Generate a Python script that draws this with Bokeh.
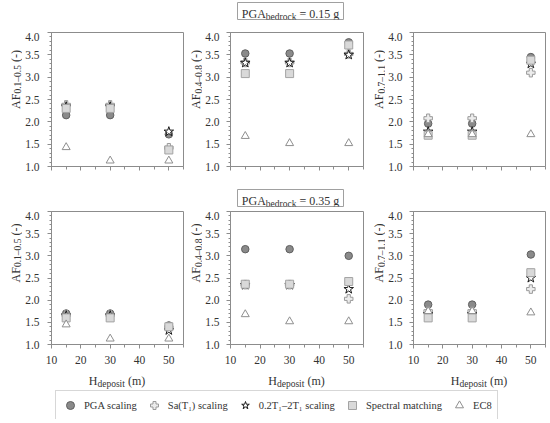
import math
from bokeh.plotting import figure
from bokeh.models import (Range1d, SingleIntervalTicker, PrintfTickFormatter, Label,
                          Legend, LegendItem, ColumnDataSource, Spacer)
from bokeh.layouts import column, row
from bokeh.embed import file_html
from bokeh.resources import INLINE

# ---------------- data ----------------
depth = [15, 30, 50]
method_labels = ["PGA scaling", "Sa(T\u2081) scaling", "0.2T\u2081\u20132T\u2081 scaling",
                 "Spectral matching", "EC8"]
af_ranges = ["0.1\u20130.5", "0.4\u20130.8", "0.7\u20131.1"]
pga_levels = ["0.15", "0.35"]

# PGA_bedrock = 0.15 g
af1_015_pga = [2.15, 2.15, 1.72]
af1_015_sa = [2.38, 2.38, 1.42]
af1_015_band = [2.34, 2.34, 1.78]
af1_015_sm = [2.30, 2.30, 1.37]
af1_015_ec8 = [1.43, 1.13, 1.13]

af2_015_pga = [3.53, 3.53, 3.78]
af2_015_sa = [3.33, 3.33, 3.52]
af2_015_band = [3.32, 3.32, 3.50]
af2_015_sm = [3.08, 3.08, 3.72]
af2_015_ec8 = [1.68, 1.52, 1.52]

af3_015_pga = [1.96, 1.96, 3.45]
af3_015_sa = [2.08, 2.08, 3.10]
af3_015_band = [1.78, 1.78, 3.30]
af3_015_sm = [1.70, 1.70, 3.38]
af3_015_ec8 = [1.72, 1.72, 1.72]

# PGA_bedrock = 0.35 g
af1_035_pga = [1.70, 1.70, 1.43]
af1_035_sa = [1.67, 1.67, 1.38]
af1_035_band = [1.65, 1.65, 1.32]
af1_035_sm = [1.60, 1.60, 1.40]
af1_035_ec8 = [1.45, 1.13, 1.13]

af2_035_pga = [3.15, 3.15, 3.00]
af2_035_sa = [2.35, 2.35, 2.03]
af2_035_band = [2.34, 2.34, 2.25]
af2_035_sm = [2.36, 2.36, 2.42]
af2_035_ec8 = [1.68, 1.52, 1.52]

af3_035_pga = [1.90, 1.90, 3.03]
af3_035_sa = [1.75, 1.75, 2.25]
af3_035_band = [1.68, 1.68, 2.50]
af3_035_sm = [1.60, 1.60, 2.62]
af3_035_ec8 = [1.75, 1.75, 1.72]

panel_data = [
    [[af1_015_pga, af1_015_sa, af1_015_band, af1_015_sm, af1_015_ec8],
     [af2_015_pga, af2_015_sa, af2_015_band, af2_015_sm, af2_015_ec8],
     [af3_015_pga, af3_015_sa, af3_015_band, af3_015_sm, af3_015_ec8]],
    [[af1_035_pga, af1_035_sa, af1_035_band, af1_035_sm, af1_035_ec8],
     [af2_035_pga, af2_035_sa, af2_035_band, af2_035_sm, af2_035_ec8],
     [af3_035_pga, af3_035_sa, af3_035_band, af3_035_sm, af3_035_ec8]],
]

# ---------------- styles ----------------
FONT = "Liberation Serif"
TXT = "#333333"
GRAY = "#8c8c8c"
styles = [
    dict(marker="circle", size=7.5, fill_color="#8a8a8a", line_color="#606060"),
    dict(marker="plus", size=8.5, fill_color="#ececec", line_color="#9a9a9a"),
    dict(marker="star", size=10, fill_color="white", line_color="#1a1a1a"),
    dict(marker="square", size=8, fill_color="#d9d9d9", line_color="#a3a3a3"),
    dict(marker="triangle", size=8, fill_color="white", line_color="#8f8f8f"),
]

TW = {' ': 250, '(': 333, ')': 333, '-': 333, '\u2013': 500, '.': 250, '=': 564,
      'A': 722, 'F': 556, 'H': 722, 'P': 556, 'G': 722, 'a': 444, 'b': 500, 'c': 444,
      'd': 500, 'e': 444, 'g': 500, 'i': 278, 'k': 500, 'm': 778, 'o': 500, 'p': 500,
      'r': 333, 's': 389, 't': 278}


def tw(s, px):
    return sum(TW.get(c, 500) for c in s) * px / 1000.0


MAIN = 12
SUB = 9.5
GAP = tw(" ", MAIN)


def lab(p, text, x, y, size, angle=0.0):
    p.add_layout(Label(x=x, y=y, x_units="screen", y_units="screen", text=text,
                       angle=angle, text_align="left", text_baseline="alphabetic",
                       text_font=FONT, text_font_size=f"{size}px", text_color=TXT))


def blank_fig(w, h, left=0, right=0, top=0, bottom=0):
    p = figure(width=w, height=h, x_range=Range1d(0, 1), y_range=Range1d(0, 1),
               output_backend="svg", toolbar_location=None,
               min_border_left=left, min_border_right=right,
               min_border_top=top, min_border_bottom=bottom,
               x_axis_location=None, y_axis_location=None,
               background_fill_color="white", border_fill_color="white")
    p.grid.visible = False
    p.outline_line_color = None
    return p


row_frame = [134, 133]
row_bottom = [20, 25]
ylab_w = [22, 18, 18]
ylab_base = [15, 11.5, 11.5]
col_left = [28, 27, 27]
col_frame = [133, 134, 133]
col_right = [1, 4, 3]


def make_panel(r, c):
    w = col_left[c] + col_frame[c] + col_right[c]
    h = row_frame[r] + row_bottom[r]
    p = figure(width=w, height=h, x_range=Range1d(10, 55), y_range=Range1d(1, 4),
               output_backend="svg", toolbar_location=None,
               min_border_left=col_left[c], min_border_right=col_right[c],
               min_border_top=0, min_border_bottom=row_bottom[r],
               background_fill_color="white", border_fill_color="white")
    p.grid.visible = False
    p.outline_line_color = GRAY
    p.xaxis.ticker = SingleIntervalTicker(interval=10, num_minor_ticks=2)
    p.yaxis.ticker = SingleIntervalTicker(interval=0.5, num_minor_ticks=5)
    p.yaxis.formatter = PrintfTickFormatter(format="%.1f")
    for ax in (p.xaxis[0], p.yaxis[0]):
        ax.axis_line_color = GRAY
        ax.major_tick_line_color = GRAY
        ax.minor_tick_line_color = GRAY
        ax.major_tick_in = 0
        ax.minor_tick_in = 0
        ax.major_label_text_font = FONT
        ax.major_label_text_font_size = "11.5px"
        ax.major_label_text_color = TXT
    p.yaxis.major_tick_out = 4
    p.yaxis.minor_tick_out = 2
    p.yaxis.major_label_standoff = 8 if c == 0 else 7
    p.xaxis.major_tick_out = 4
    p.xaxis.minor_tick_out = 3
    if r == 0:
        p.xaxis.major_label_text_color = None
        p.xaxis.major_label_text_font_size = "0px"
        p.xaxis.major_label_standoff = 0
    else:
        p.xaxis.major_label_standoff = 7

    for vals, st in zip(panel_data[r][c], styles):
        src = ColumnDataSource(dict(x=depth, y=vals))
        p.scatter("x", "y", source=src, line_width=1, **st)
    return p


def make_ylab(r, c):
    h = row_frame[r] + row_bottom[r]
    p = blank_fig(ylab_w[c], h)
    sub = af_ranges[c]
    wa, ws, wt = tw("AF", MAIN), tw(sub, SUB), tw("(-)", MAIN)
    y0 = (h - row_frame[r] / 2) - (wa + ws + GAP + wt) / 2
    a = math.pi / 2
    bx = ylab_base[c]
    lab(p, "AF", bx, y0, MAIN, a)
    lab(p, sub, bx + 2.5, y0 + wa, SUB, a)
    lab(p, "(-)", bx, y0 + wa + ws + GAP, MAIN, a)
    return p


def make_xlab(c):
    p = blank_fig(ylab_w[c] + col_left[c] + col_frame[c] + col_right[c], 20,
                  left=ylab_w[c] + col_left[c], right=col_right[c])
    wh, wd, wm = tw("H", MAIN), tw("deposit", SUB), tw("(m)", MAIN)
    x0 = col_frame[c] / 2 - (wh + wd + GAP + wm) / 2
    lab(p, "H", x0, 9, MAIN)
    lab(p, "deposit", x0 + wh, 6, SUB)
    lab(p, "(m)", x0 + wh + wd + GAP, 9, MAIN)
    return p


def make_box(level, top, bottom):
    bw, bh = 106, 17
    p = blank_fig(bw + 2, bh + top + bottom, left=1, right=1, top=top, bottom=bottom)
    p.outline_line_color = "#a0a0a0"
    tail = f"= {level} g"
    w1, w2, w3 = tw("PGA", MAIN), tw("bedrock", SUB), tw(tail, MAIN)
    x0 = bw / 2 - (w1 + w2 + GAP + w3) / 2
    lab(p, "PGA", x0, 6, MAIN)
    lab(p, "bedrock", x0 + w1, 3, SUB)
    lab(p, tail, x0 + w1 + w2 + GAP, 6, MAIN)
    return p


def make_legend():
    p = blank_fig(458, 30)
    items = []
    for name, st in zip(method_labels, styles):
        rr = p.scatter(x=[0.5], y=[-10.0], line_width=1, **st)
        items.append(LegendItem(label=name, renderers=[rr]))
    leg = Legend(items=items, orientation="horizontal", location="top_left", margin=1,
                 padding=4, spacing=7, glyph_width=20, glyph_height=20, label_standoff=4,
                 label_text_font=FONT, label_text_font_size="10.5px", label_text_color=TXT,
                 border_line_color="#b0b0b0", background_fill_color="white")
    p.add_layout(leg, "center")
    return p


def panel_row(r):
    kids = []
    for c in range(3):
        kids.append(make_ylab(r, c))
        kids.append(make_panel(r, c))
    return row(*kids)


box1 = row(Spacer(width=236, height=32), make_box(pga_levels[0], 2, 13))
box2 = row(Spacer(width=236, height=25), make_box(pga_levels[1], 3, 5))
xlabs = row(*[make_xlab(c) for c in range(3)])
legrow = row(Spacer(width=54, height=30), make_legend())

layout = column(box1, panel_row(0), box2, panel_row(1), xlabs, legrow)

open("out.html", "w").write(file_html(layout, INLINE))
